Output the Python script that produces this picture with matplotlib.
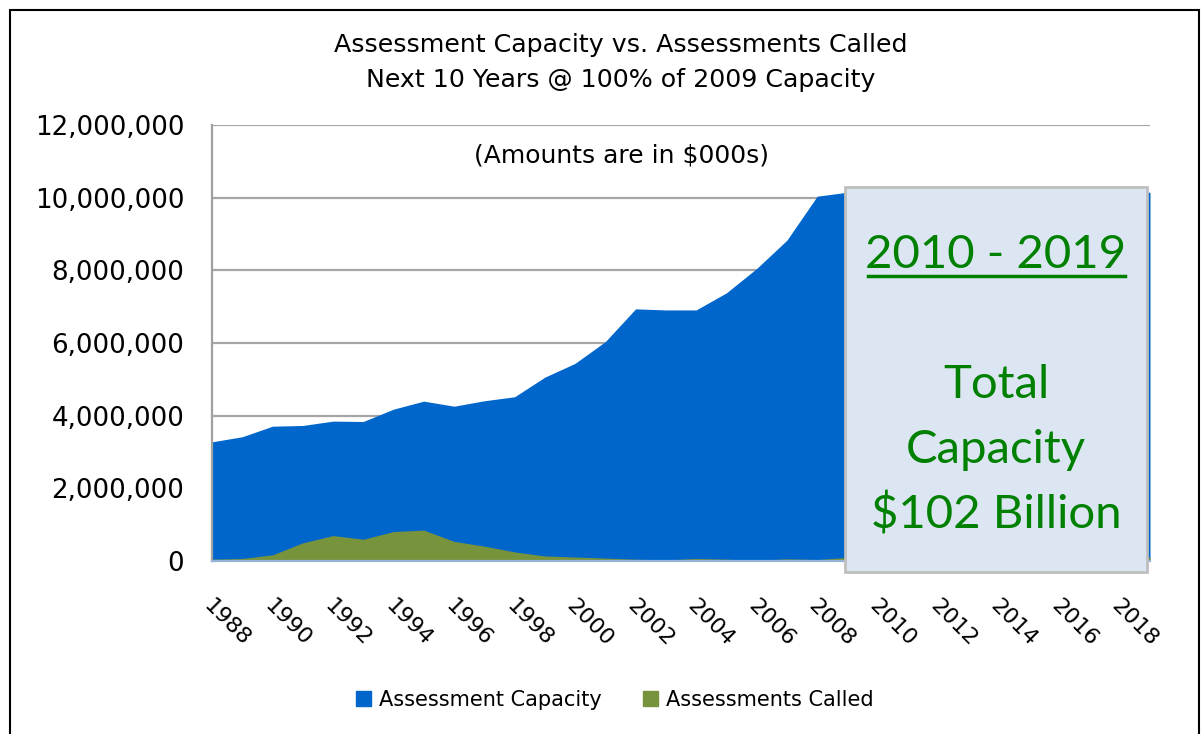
import matplotlib
matplotlib.use("Agg")
import matplotlib.pyplot as plt
import matplotlib.patches as mpatches
import matplotlib.transforms as mtrans
from matplotlib.ticker import FuncFormatter

years = list(range(1988, 2020))
capacity = [3280000, 3420000, 3710000, 3730000, 3850000, 3840000, 4180000, 4400000,
            4260000, 4410000, 4520000, 5060000, 5440000, 6040000, 6940000, 6910000,
            6910000, 7380000, 8050000, 8830000, 10040000, 10150000,
            10150000, 10150000, 10150000, 10150000, 10150000, 10150000, 10150000,
            10150000, 10150000, 10150000]
called = [50000, 70000, 170000, 500000, 700000, 600000, 810000, 850000,
          540000, 410000, 250000, 140000, 110000, 80000, 50000, 30000,
          70000, 50000, 20000, 60000, 40000, 100000,
          100000, 100000, 100000, 100000, 100000, 100000, 100000,
          100000, 100000, 100000]
tick_years = list(range(1988, 2019, 2))
series_names = ["Assessment Capacity", "Assessments Called"]
title_lines = ["Assessment Capacity vs. Assessments Called",
               "Next 10 Years @ 100% of 2009 Capacity"]
subtitle = "(Amounts are in $000s)"
box_lines = ["2010 - 2019", "Total", "Capacity", "$102 Billion"]

W, H = 1204, 734
fig = plt.figure(figsize=(W / 100, H / 100), dpi=100)

def fx(x):
    return x / W

def fy(y):
    return 1 - y / H

ax = fig.add_axes([fx(212), fy(561), fx(1150 - 212), (561 - 125) / H])
blue = "#0066CC"
green = "#77933C"
ax.fill_between(years, 0, capacity, color=blue, lw=0, zorder=2)
ax.fill_between(years, 0, called, color=green, lw=0, zorder=3)
ax.set_xlim(years[0], years[-1])
ax.set_ylim(0, 12000000)
ax.set_yticks(range(0, 12000001, 2000000))
ax.yaxis.set_major_formatter(FuncFormatter(lambda v, p: f"{int(v):,}"))
ax.grid(axis="y", color="#A6A6A6", lw=1.6, zorder=1)
ax.set_axisbelow(True)
for s in ["top", "right"]:
    ax.spines[s].set_visible(False)
ax.spines["left"].set_color("#A0A0A0")
ax.spines["left"].set_linewidth(1.6)
ax.spines["bottom"].set_color("#95B3D7")
ax.spines["bottom"].set_linewidth(1.6)
ax.spines["bottom"].set_zorder(4)
ax.tick_params(axis="y", length=0, pad=20, labelsize=18.8)
ax.set_xticks(tick_years)
ax.set_xticklabels([str(y) for y in tick_years])
ax.tick_params(axis="x", length=0, pad=25, labelsize=16)
offset = mtrans.ScaledTranslation(2 / 100, 0, fig.dpi_scale_trans)
for lab in ax.get_xticklabels():
    lab.set_rotation(-45)
    lab.set_rotation_mode("anchor")
    lab.set_ha("left")
    lab.set_va("top")
    lab.set_transform(lab.get_transform() + offset)

fig.text(fx(621), fy(45), title_lines[0], ha="center", va="center", fontsize=18.2)
fig.text(fx(621), fy(80), title_lines[1], ha="center", va="center", fontsize=18.2)
fig.text(fx(621), fy(155), subtitle, ha="center", va="center", fontsize=18)

# overlay box
box = mpatches.Rectangle((fx(845), fy(572)), fx(1147 - 845), (572 - 187) / H,
                         transform=fig.transFigure, facecolor="#DCE6F2",
                         edgecolor="#BFBFBF", lw=2, zorder=10)
fig.add_artist(box)
tgreen = "#008000"
bfont = "Lato"
baselines = [268, 398, 463, 528]
for txt, yb in zip(box_lines, baselines):
    fig.text(fx(996), fy(yb), txt, ha="center", va="baseline", fontsize=34,
             color=tgreen, family=bfont, zorder=11)
fig.add_artist(plt.Line2D([fx(868), fx(1125)], [fy(276), fy(276)],
                          transform=fig.transFigure, color=tgreen, lw=2.5, zorder=11))

# outer frame
fig.add_artist(mpatches.Rectangle((fx(10), fy(740)), fx(1199 - 10), (740 - 10) / H,
                                  transform=fig.transFigure, fill=False,
                                  edgecolor="black", lw=1.5, zorder=20))

handles = [mpatches.Patch(color=blue), mpatches.Patch(color=green)]
fig.legend(handles, series_names, loc="center", bbox_to_anchor=(fx(615), fy(700)),
           ncol=2, frameon=False, fontsize=15, handlelength=0.7, handleheight=0.7,
           handletextpad=0.4, columnspacing=2.0)

fig.savefig("out.png", dpi=100)
